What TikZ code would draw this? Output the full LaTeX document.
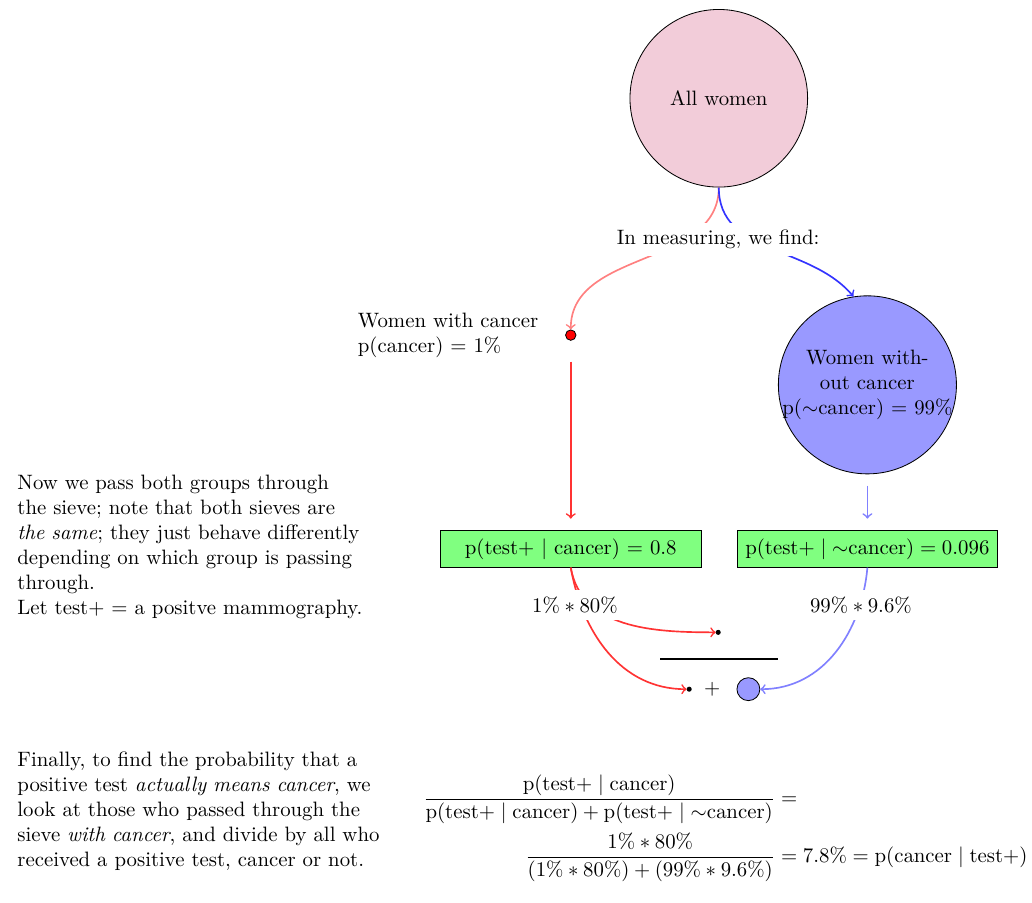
\documentclass[tikz,border=0pt]{standalone}
\usepackage{amsmath}
\usetikzlibrary{positioning}

\begin{document}
\begin{tikzpicture}[
    sieve/.style={draw, fill=green!50, minimum width=4.4cm, minimum height=0.62cm},
    flow/.style={->, thick},
    tally/.style={draw, circle, fill, inner sep=0pt, minimum size=2pt}
  ]
    \useasboundingbox (0,0) rectangle (17.43,-15.25);

    % Populations
    \node[draw, circle, fill=purple!20, minimum size=3cm] (all) at (12.14,-1.66) {All women};
    \node[draw, circle, fill=blue!40, text width=3.3cm, align=center, inner sep=-5.5pt] (healthy) at (14.65,-6.5) {Women without cancer\\p($\sim$cancer) $=$ 99\%};
    \node[draw, circle, fill=red, inner sep=0pt, minimum size=5pt] (sick) at (9.64,-5.66) {};
    \node[left=0.33cm of sick, align=left] (sicklabel) {Women with cancer\\p(cancer) $=$ 1\%};

    % Sieves
    \node[sieve] (sieve1) at (9.64,-9.27) {p(test$+$ $\mid$ cancer) $=$ 0.8};
    \node[sieve] (sieve2) at (14.65,-9.27) {$\mathrm{p}(\mathrm{test}+ \mid {\sim}\mathrm{cancer}) = 0.096$};

    % Survivors
    \node[tally] (num) at (12.13,-10.68) {};
    \node[tally] (den) at (11.64,-11.64) {};
    \node (plus) at (12.03,-11.64) {$+$};
    \node[draw, circle, fill=blue!40, inner sep=0pt, minimum size=11pt] (denblue) at (12.64,-11.64) {};
    \coordinate (barl) at (11.15,-11.13);
    \coordinate (barr) at (13.14,-11.13);
    \draw[very thick] (barl) -- (barr);

    % Lines
    \draw[flow, red!50] (all.south) to[out=-90, in=90] (sick.north);
    \draw[flow, blue!80] (all.south) to[out=-90, in=130] (healthy.99);
    \node[fill=white] (measure) at (12.13,-4.05) {In measuring, we find:};

    \draw[flow, red!80, shorten <=10pt, shorten >=5.5pt] (sick) -- (sieve1);
    \draw[flow, blue!50, shorten <=5.5pt, shorten >=5.5pt] (healthy) -- (sieve2);

    \draw[flow, red!80] (sieve1.south) to[out=-80, in=180] (num);
    \draw[flow, red!80] (sieve1.south) to[out=-80, in=180] (den);
    \draw[flow, blue!50] (sieve2.south) to[out=-95, in=0] (denblue);
    \node[fill=white] (rate1) at (9.71,-10.22) {$1\% * 80\%$};
    \node[fill=white] (rate2) at (14.54,-10.22) {$99\% * 9.6\%$};

    % Explanations
    \node[anchor=north west, text width=5.9cm, align=left] (pass) at (0.17,-7.9)
      {Now we pass both groups through the sieve; note that both sieves are \emph{the same}; they just behave differently depending on which group is passing through.\\Let test$+$ $=$ a positve mammography.};
    \node[anchor=north west, text width=6.3cm, align=left] (final) at (0.17,-12.58)
      {Finally, to find the probability that a positive test \emph{actually means cancer}, we look at those who passed through the sieve \emph{with cancer}, and divide by all who received a positive test, cancer or not.};

    % Result
    \node (bayes) at (12.25,-13.99) {$\begin{aligned}
      \frac{\mathrm{p}(\mathrm{test}+ \mid \mathrm{cancer})}{\mathrm{p}(\mathrm{test}+ \mid \mathrm{cancer}) + \mathrm{p}(\mathrm{test}+ \mid {\sim}\mathrm{cancer})} &= \\
      \frac{1\% * 80\%}{(1\% * 80\%) + (99\% * 9.6\%)} &= 7.8\% = \mathrm{p}(\mathrm{cancer} \mid \mathrm{test}+)
    \end{aligned}$};
\end{tikzpicture}
\end{document}
